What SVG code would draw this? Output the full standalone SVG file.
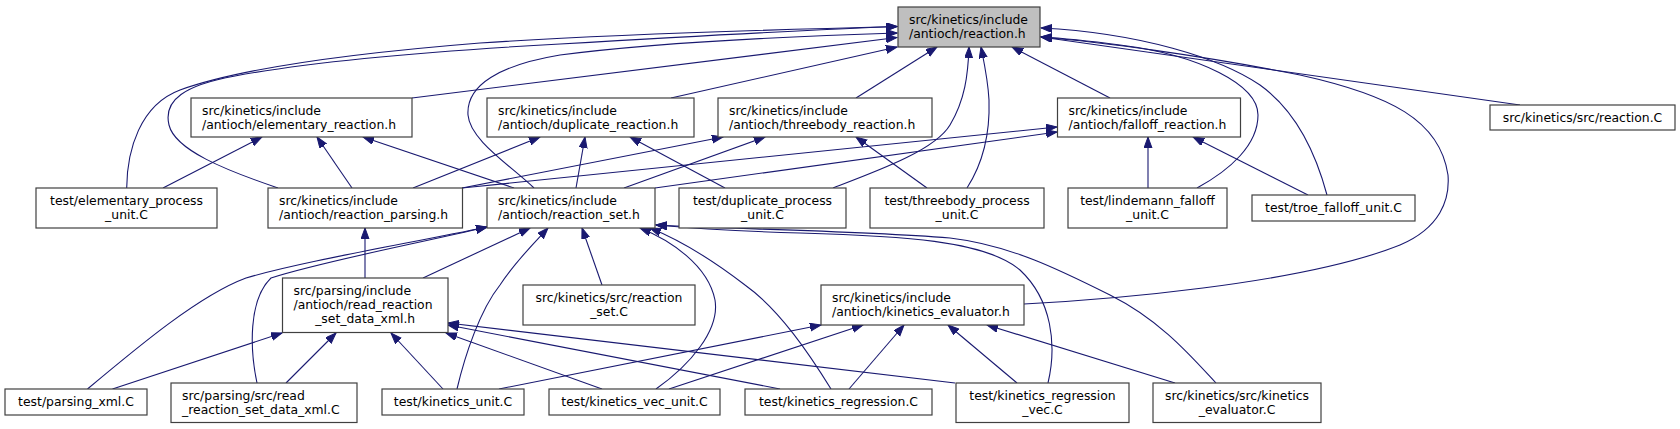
<svg xmlns="http://www.w3.org/2000/svg" width="1680" height="429" viewBox="0 0 1680 429">
<style>
.n rect{fill:#ffffff;stroke:#404040;stroke-width:1.2}
.n.root rect{fill:#bfbfbf}
.n text{font-family:"DejaVu Sans",sans-serif;font-size:12.4px;fill:#000}
.m{text-anchor:middle}
#edges path{fill:none;stroke:#191970;stroke-width:1.1;marker-end:url(#ah)}
</style>
<defs>
<marker id="ah" markerUnits="userSpaceOnUse" markerWidth="12" markerHeight="9" refX="11" refY="4" orient="auto">
<path d="M0,0 L11,4 L0,8 Z" fill="#191970" stroke="#191970" stroke-width="1"/>
</marker>
</defs>
<rect width="1680" height="429" fill="#ffffff"/>
<g id="edges">
<path d="M126.7,188 C127,150 140,105 180,90 C230,72 330,55 480,43 C600,35 760,30 897,26.5"/>
<path d="M278,188 C225,170 175,150 169,125 C163,100 185,85 235,76 C320,60 450,50 560,44 C680,37 800,30 897,26.5"/>
<path d="M534,188 C510,165 470,140 468,115 C466,85 500,65 560,55 C660,42 800,36 897,33"/>
<path d="M412,98 L897,37.5"/>
<path d="M671,98 L897,47"/>
<path d="M856,98 L937,47"/>
<path d="M1110,98 L1012,47"/>
<path d="M833,188 C880,170 935,150 950,125 C965,100 968,75 969,47"/>
<path d="M967,188 C985,160 990,130 989,100 C988,80 984,62 981,47"/>
<path d="M1197,188 C1230,170 1258,145 1258,115 C1258,85 1200,55 1120,45 C1090,41 1060,38 1041,37"/>
<path d="M1327,195 C1315,150 1295,110 1260,85 C1220,58 1140,33 1041,28"/>
<path d="M1024,304 C1100,300 1300,285 1400,245 C1440,228 1450,200 1448,175 C1440,120 1390,95 1300,75 C1200,55 1100,42 1041,37"/>
<path d="M1520,105 L1041,37"/>
<path d="M163,188 L262,137"/>
<path d="M352,188 L317,137"/>
<path d="M514,188 L363,137"/>
<path d="M413,188 L540,137"/>
<path d="M576,188 L585,137"/>
<path d="M725,188 L630,137"/>
<path d="M462,188 L723,137"/>
<path d="M624,188 L765,137"/>
<path d="M927,188 L856,137"/>
<path d="M462,188 L1057,127"/>
<path d="M655,188 L1057,132"/>
<path d="M1148,188 L1148,137"/>
<path d="M1308,195 L1193,137"/>
<path d="M365,278 L365,228"/>
<path d="M87.5,389 C140,345 200,295 246,278 C300,262 400,245 487,227"/>
<path d="M257,383 C250,350 248,300 271,278 C320,262 410,245 487,227"/>
<path d="M423,278 L530,228"/>
<path d="M457,389 C465,355 480,310 500,285 C515,262 535,242 548,228"/>
<path d="M602,285 L582,228"/>
<path d="M656,389 C690,365 720,330 715,300 C708,265 670,240 640,228"/>
<path d="M831,389 C810,355 780,310 745,285 C715,262 680,240 650,228"/>
<path d="M1048,383 C1057,345 1052,300 1020,270 C985,240 900,236 800,233 C730,231 690,228 656,225"/>
<path d="M1216,383 C1190,355 1160,320 1110,295 C1060,270 1010,245 950,238 C850,230 720,229 656,225"/>
<path d="M112.5,389 L282,333"/>
<path d="M286,383 L336,333"/>
<path d="M443,389 L391,333"/>
<path d="M602,389 L446,333"/>
<path d="M780,389 L448,325"/>
<path d="M955,383 L448,323"/>
<path d="M499,389 L821,325"/>
<path d="M669,389 L863,325"/>
<path d="M849,389 L904,325"/>
<path d="M1017,383 L948,325"/>
<path d="M1175,383 L987,325"/>
</g>
<g id="reaction_h" class="n root"><rect x="898" y="7" width="142" height="40"/><text x="909" y="23.5">src/kinetics/include</text><text x="909" y="37.8">/antioch/reaction.h</text></g>
<g id="elementary_reaction_h" class="n"><rect x="191" y="98" width="221" height="39"/><text x="202" y="114.5">src/kinetics/include</text><text x="202" y="128.8">/antioch/elementary_reaction.h</text></g>
<g id="duplicate_reaction_h" class="n"><rect x="487" y="98" width="207" height="39"/><text x="498" y="114.5">src/kinetics/include</text><text x="498" y="128.8">/antioch/duplicate_reaction.h</text></g>
<g id="threebody_reaction_h" class="n"><rect x="718" y="98" width="214" height="39"/><text x="729" y="114.5">src/kinetics/include</text><text x="729" y="128.8">/antioch/threebody_reaction.h</text></g>
<g id="falloff_reaction_h" class="n"><rect x="1057.5" y="98" width="183" height="39"/><text x="1068.5" y="114.5">src/kinetics/include</text><text x="1068.5" y="128.8">/antioch/falloff_reaction.h</text></g>
<g id="reaction_C" class="n"><rect x="1490" y="105" width="185" height="25"/><text class="m" x="1582.5" y="122">src/kinetics/src/reaction.C</text></g>
<g id="elementary_process_unit" class="n"><rect x="36" y="188" width="181" height="40"/><text class="m" x="126.5" y="204.5">test/elementary_process</text><text class="m" x="126.5" y="218.8">_unit.C</text></g>
<g id="reaction_parsing_h" class="n"><rect x="268" y="188" width="194.5" height="40"/><text x="279" y="204.5">src/kinetics/include</text><text x="279" y="218.8">/antioch/reaction_parsing.h</text></g>
<g id="reaction_set_h" class="n"><rect x="487" y="188" width="168" height="40"/><text x="498" y="204.5">src/kinetics/include</text><text x="498" y="218.8">/antioch/reaction_set.h</text></g>
<g id="duplicate_process_unit" class="n"><rect x="679" y="188" width="167" height="40"/><text class="m" x="762.5" y="204.5">test/duplicate_process</text><text class="m" x="762.5" y="218.8">_unit.C</text></g>
<g id="threebody_process_unit" class="n"><rect x="870" y="188" width="174" height="40"/><text class="m" x="957" y="204.5">test/threebody_process</text><text class="m" x="957" y="218.8">_unit.C</text></g>
<g id="lindemann_falloff_unit" class="n"><rect x="1068" y="188" width="159" height="40"/><text class="m" x="1147.5" y="204.5">test/lindemann_falloff</text><text class="m" x="1147.5" y="218.8">_unit.C</text></g>
<g id="troe_falloff_unit" class="n"><rect x="1252" y="195" width="163" height="26"/><text class="m" x="1333.5" y="212.3">test/troe_falloff_unit.C</text></g>
<g id="read_reaction_set_data_xml_h" class="n"><rect x="282.5" y="278" width="165.5" height="54.5"/><text x="293.5" y="294.5">src/parsing/include</text><text x="293.5" y="308.8">/antioch/read_reaction</text><text class="m" x="365.2" y="323.1">_set_data_xml.h</text></g>
<g id="reaction_set_C" class="n"><rect x="523" y="285" width="172" height="40"/><text class="m" x="609" y="301.5">src/kinetics/src/reaction</text><text class="m" x="609" y="315.8">_set.C</text></g>
<g id="kinetics_evaluator_h" class="n"><rect x="821" y="285" width="203" height="40"/><text x="832" y="301.5">src/kinetics/include</text><text x="832" y="315.8">/antioch/kinetics_evaluator.h</text></g>
<g id="parsing_xml" class="n"><rect x="5" y="389" width="142" height="26"/><text class="m" x="76" y="406.3">test/parsing_xml.C</text></g>
<g id="read_reaction_set_data_xml_C" class="n"><rect x="171" y="383" width="186" height="39.5"/><text x="182" y="399.5">src/parsing/src/read</text><text x="182" y="413.8">_reaction_set_data_xml.C</text></g>
<g id="kinetics_unit" class="n"><rect x="382" y="389" width="142" height="26"/><text class="m" x="453" y="406.3">test/kinetics_unit.C</text></g>
<g id="kinetics_vec_unit" class="n"><rect x="549" y="389" width="171" height="26"/><text class="m" x="634.5" y="406.3">test/kinetics_vec_unit.C</text></g>
<g id="kinetics_regression" class="n"><rect x="745" y="389" width="187" height="26"/><text class="m" x="838.5" y="406.3">test/kinetics_regression.C</text></g>
<g id="kinetics_regression_vec" class="n"><rect x="956" y="383" width="173" height="39.5"/><text class="m" x="1042.5" y="399.5">test/kinetics_regression</text><text class="m" x="1042.5" y="413.8">_vec.C</text></g>
<g id="kinetics_evaluator_C" class="n"><rect x="1153" y="383" width="168" height="39.5"/><text class="m" x="1237" y="399.5">src/kinetics/src/kinetics</text><text class="m" x="1237" y="413.8">_evaluator.C</text></g>
</svg>
